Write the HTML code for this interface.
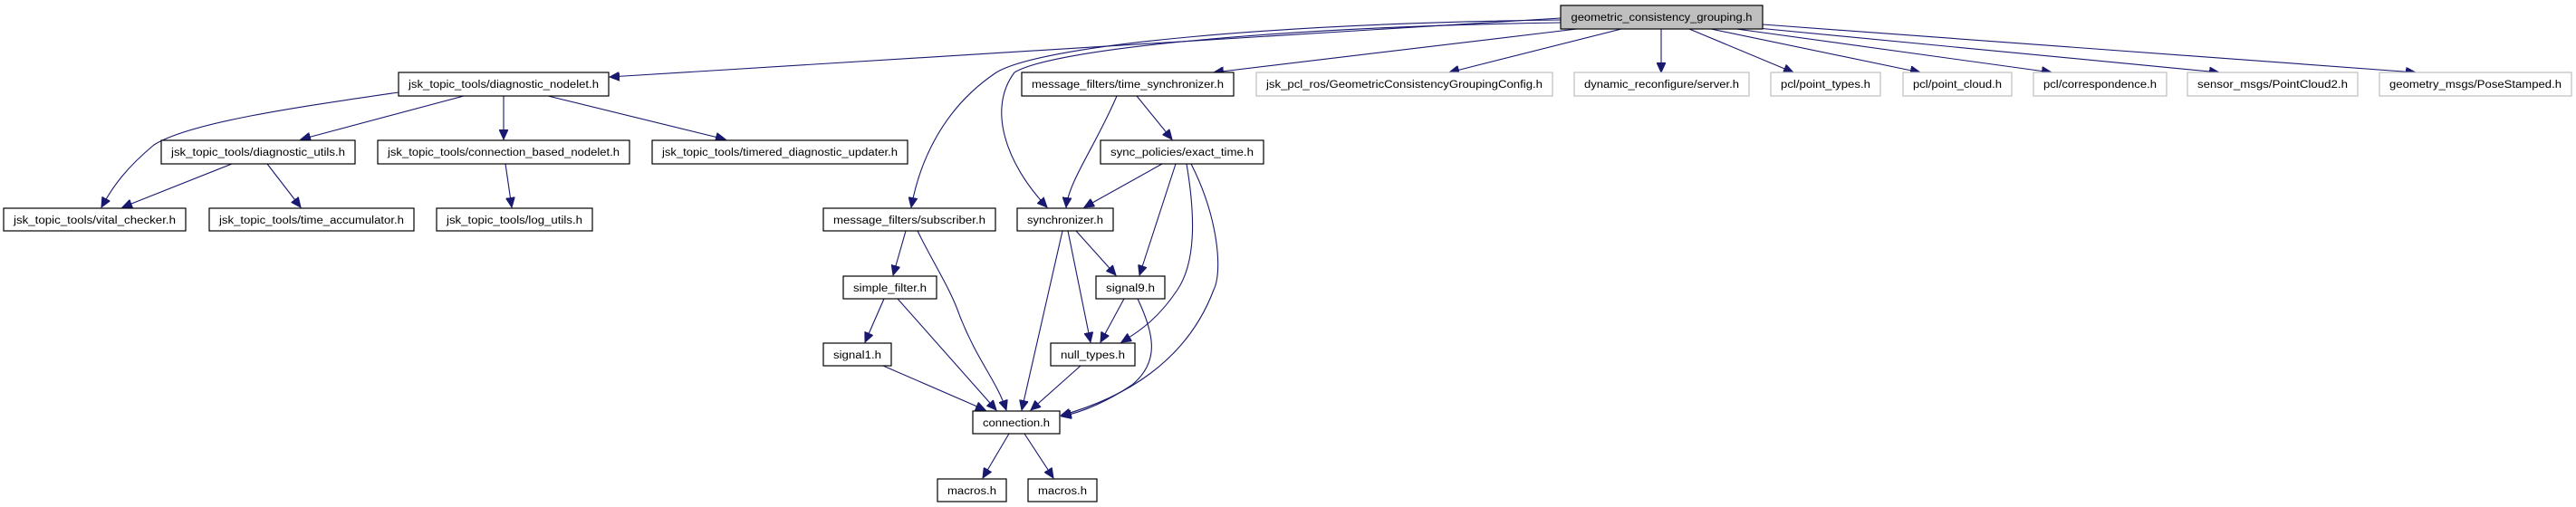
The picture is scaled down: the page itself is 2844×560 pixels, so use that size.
<!DOCTYPE html>
<html><head><meta charset="utf-8"><style>
html,body{margin:0;padding:0;background:#fff;}
svg{display:block;}
text{font-family:"Liberation Sans",Arial,sans-serif;font-size:11.5px;fill:#000;text-anchor:middle;}
.n{fill:#fff;stroke:#000;stroke-width:1.2;}
.g{fill:#fff;stroke:#bfbfbf;stroke-width:1.2;}
.r{fill:#bfbfbf;stroke:#000;stroke-width:1.2;}
path{fill:none;stroke:#191970;stroke-width:1.1;}
</style></head><body>
<svg width="2844" height="560" viewBox="0 0 2844 560" xmlns="http://www.w3.org/2000/svg">
<defs><marker id="a" markerUnits="userSpaceOnUse" markerWidth="12" markerHeight="10" refX="11" refY="5" orient="auto"><path d="M0,0 L11,5 L0,10 Z" style="fill:#191970;stroke:#191970;stroke-width:1"/></marker></defs>

<!-- edges -->
<g marker-end="url(#a)">
<path d="M1723,20 L673,85"/>
<path d="M1723,22 C1400,26 1150,50 1100,80 C1040,120 1015,180 1006,229"/>
<path d="M1723,25 C1400,30 1160,55 1120,80 C1090,120 1110,180 1156,229"/>
<path d="M1741,32 L1340,80"/>
<path d="M1790,32 L1600,80"/>
<path d="M1834,32 L1834,80"/>
<path d="M1865,32 L1980,80"/>
<path d="M1889,32 L2120,80"/>
<path d="M1910,31 L2265,80"/>
<path d="M1930,30 L2450,80"/>
<path d="M1946,27 L2667,80"/>

<path d="M440,102 C330,118 210,135 170,160 C140,185 125,205 112,229"/>
<path d="M512,106 L332,154"/>
<path d="M556,106 L556,154"/>
<path d="M605,106 L801,154"/>
<path d="M256,181 L135,229"/>
<path d="M295,181 L332,229"/>
<path d="M558,181 L565,229"/>

<path d="M1233,106 C1210,160 1180,200 1177,229"/>
<path d="M1255,106 L1294,154"/>
<path d="M1283,181 L1197,229"/>
<path d="M1298,181 L1258,304"/>
<path d="M1310,181 C1320,240 1320,290 1300,320 C1280,350 1260,365 1238,378"/>
<path d="M1315,181 C1345,240 1350,300 1340,320 C1310,400 1240,440 1171,459"/>
<path d="M1173,255 L1128,453"/>
<path d="M1179,255 L1204,378"/>
<path d="M1188,255 L1232,304"/>
<path d="M1000,255 L986,304"/>
<path d="M1013,255 C1030,290 1050,320 1060,350 C1080,400 1100,420 1111,453"/>
<path d="M976,330 L955,378"/>
<path d="M991,330 L1100,453"/>
<path d="M975,404 L1088,453"/>
<path d="M1241,330 L1215,378"/>
<path d="M1256,330 C1275,370 1280,400 1250,425 C1220,445 1195,455 1172,460"/>
<path d="M1193,404 L1138,453"/>
<path d="M1114,479 L1085,528"/>
<path d="M1131,479 L1163,528"/>
</g>

<!-- nodes -->
<rect class="r" x="1723" y="6" width="223" height="26"/><text x="1834.5" y="23" textLength="200" lengthAdjust="spacingAndGlyphs">geometric_consistency_grouping.h</text>

<rect class="n" x="440" y="80" width="232" height="26"/><text x="556" y="97" textLength="210" lengthAdjust="spacingAndGlyphs">jsk_topic_tools/diagnostic_nodelet.h</text>
<rect class="n" x="1128" y="80" width="234" height="26"/><text x="1245" y="97" textLength="212" lengthAdjust="spacingAndGlyphs">message_filters/time_synchronizer.h</text>
<rect class="g" x="1387" y="80" width="327" height="26"/><text x="1550.5" y="97" textLength="305" lengthAdjust="spacingAndGlyphs">jsk_pcl_ros/GeometricConsistencyGroupingConfig.h</text>
<rect class="g" x="1738" y="80" width="193" height="26"/><text x="1834.5" y="97" textLength="171" lengthAdjust="spacingAndGlyphs">dynamic_reconfigure/server.h</text>
<rect class="g" x="1955" y="80" width="121" height="26"/><text x="2015.5" y="97" textLength="99" lengthAdjust="spacingAndGlyphs">pcl/point_types.h</text>
<rect class="g" x="2101" y="80" width="120" height="26"/><text x="2161" y="97" textLength="98" lengthAdjust="spacingAndGlyphs">pcl/point_cloud.h</text>
<rect class="g" x="2245" y="80" width="147" height="26"/><text x="2318.5" y="97" textLength="125" lengthAdjust="spacingAndGlyphs">pcl/correspondence.h</text>
<rect class="g" x="2415" y="80" width="188" height="26"/><text x="2509" y="97" textLength="166" lengthAdjust="spacingAndGlyphs">sensor_msgs/PointCloud2.h</text>
<rect class="g" x="2627" y="80" width="212" height="26"/><text x="2733" y="97" textLength="190" lengthAdjust="spacingAndGlyphs">geometry_msgs/PoseStamped.h</text>

<rect class="n" x="178" y="155" width="214" height="26"/><text x="285" y="172" textLength="192" lengthAdjust="spacingAndGlyphs">jsk_topic_tools/diagnostic_utils.h</text>
<rect class="n" x="417" y="155" width="278" height="26"/><text x="556" y="172" textLength="256" lengthAdjust="spacingAndGlyphs">jsk_topic_tools/connection_based_nodelet.h</text>
<rect class="n" x="720" y="155" width="282" height="26"/><text x="861" y="172" textLength="260" lengthAdjust="spacingAndGlyphs">jsk_topic_tools/timered_diagnostic_updater.h</text>
<rect class="n" x="1215" y="155" width="180" height="26"/><text x="1305" y="172" textLength="158" lengthAdjust="spacingAndGlyphs">sync_policies/exact_time.h</text>

<rect class="n" x="4" y="230" width="201" height="25"/><text x="104.5" y="247" textLength="179" lengthAdjust="spacingAndGlyphs">jsk_topic_tools/vital_checker.h</text>
<rect class="n" x="231" y="230" width="226" height="25"/><text x="344" y="247" textLength="204" lengthAdjust="spacingAndGlyphs">jsk_topic_tools/time_accumulator.h</text>
<rect class="n" x="482" y="230" width="172" height="25"/><text x="568" y="247" textLength="150" lengthAdjust="spacingAndGlyphs">jsk_topic_tools/log_utils.h</text>
<rect class="n" x="909" y="230" width="190" height="25"/><text x="1004" y="247" textLength="168" lengthAdjust="spacingAndGlyphs">message_filters/subscriber.h</text>
<rect class="n" x="1123" y="230" width="106" height="25"/><text x="1176" y="247" textLength="84" lengthAdjust="spacingAndGlyphs">synchronizer.h</text>

<rect class="n" x="931" y="305" width="103" height="25"/><text x="982.5" y="322" textLength="81" lengthAdjust="spacingAndGlyphs">simple_filter.h</text>
<rect class="n" x="1210" y="305" width="76" height="25"/><text x="1248" y="322" textLength="54" lengthAdjust="spacingAndGlyphs">signal9.h</text>

<rect class="n" x="909" y="379" width="75" height="25"/><text x="946.5" y="396" textLength="53" lengthAdjust="spacingAndGlyphs">signal1.h</text>
<rect class="n" x="1160" y="379" width="93" height="25"/><text x="1206.5" y="396" textLength="71" lengthAdjust="spacingAndGlyphs">null_types.h</text>

<rect class="n" x="1074" y="454" width="96" height="25"/><text x="1122" y="471" textLength="74" lengthAdjust="spacingAndGlyphs">connection.h</text>

<rect class="n" x="1035" y="529" width="76" height="25"/><text x="1073" y="546" textLength="54" lengthAdjust="spacingAndGlyphs">macros.h</text>
<rect class="n" x="1135" y="529" width="76" height="25"/><text x="1173" y="546" textLength="54" lengthAdjust="spacingAndGlyphs">macros.h</text>
</svg>
</body></html>
